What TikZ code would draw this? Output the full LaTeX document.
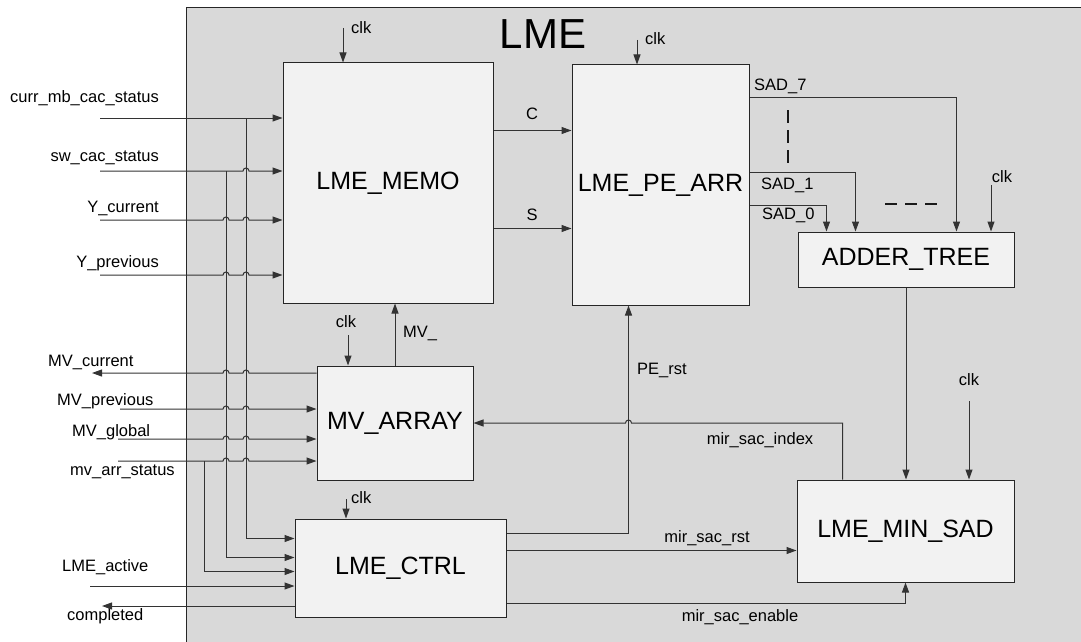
\documentclass[tikz,border=0pt]{standalone}
\usepackage{fontspec}
\setmainfont{Liberation Sans}
\usetikzlibrary{arrows.meta, positioning, calc}
\tikzstyle{block} = [rectangle, draw=black!85, fill=gray!10, line width=1pt, inner sep=0pt, text centered, font=\fontsize{25}{30}\selectfont]
\tikzstyle{sig} = [inner sep=0pt, font=\fontsize{16.5}{20}\selectfont]
\tikzstyle{wire} = [draw=black!80, line width=1pt]
\tikzstyle{arrow} = [wire, -{Triangle[length=10pt,width=7pt]}]
\tikzstyle{gapline} = [draw=black!90, line width=1.6pt]

\begin{document}
\begin{tikzpicture}[x=1pt, y=-1pt]
\useasboundingbox (0,0) rectangle (1081,642);

% LME frame
\draw[draw=black!85, fill=gray!30, line width=1pt] (186,8) rectangle (1100,660);
\node (title) [font=\fontsize{42}{50}\selectfont, inner sep=0pt] at (543,34) {LME};

% Blocks
\node (memo) [block, minimum width=210pt, minimum height=240pt] at (388,183) {LME\_MEMO};
\node (pearr) [block, minimum width=177pt, minimum height=240pt] at (660.5,185) {LME\_PE\_ARR};
\node (adder) [block, minimum width=216pt, minimum height=55pt] at (906,259.5) {ADDER\_TREE};
\node (mvarr) [block, minimum width=156pt, minimum height=114pt] at (395,423) {MV\_ARRAY};
\node (ctrl) [block, minimum width=211pt, minimum height=98pt] at (400.5,568) {LME\_CTRL};
\node (minsad) [block, minimum width=217pt, minimum height=102pt] at (905.5,531) {LME\_MIN\_SAD};

% Clock inputs
\coordinate (ck1) at (343,28);
\coordinate (ck2) at (637,40);
\coordinate (ck3) at (348,335);
\coordinate (ck4) at (346,499);
\coordinate (ck5) at (991,185);
\coordinate (ck6) at (969,401);
\draw [arrow] (ck1) -- (ck1 |- memo.north);
\draw [arrow] (ck2) -- (ck2 |- pearr.north);
\draw [arrow] (ck3) -- (ck3 |- mvarr.north);
\draw [arrow] (ck4) -- (ck4 |- ctrl.north);
\draw [arrow] (ck5) -- (ck5 |- adder.north);
\draw [arrow] (ck6) -- (ck6 |- minsad.north);
\node (ck1lbl) [sig, right=8pt of ck1] {clk};
\node (ck2lbl) [sig, right=8pt of ck2, yshift=1pt] {clk};
\node (ck3lbl) [sig, above=7pt of ck3, xshift=-2pt] {clk};
\node (ck4lbl) [sig, right=5pt of ck4, yshift=1pt] {clk};
\node (ck5lbl) [sig, above=2pt of ck5, xshift=11pt] {clk};
\node (ck6lbl) [sig, above=15pt of ck6] {clk};

% Left side signals
\coordinate (curr) at (100,118);
\coordinate (sw) at (100,171);
\coordinate (ycur) at (100,220);
\coordinate (yprev) at (100,275);
\coordinate (mvcur) at (92,373);
\coordinate (mvprev) at (120,409);
\coordinate (mvglob) at (118,439);
\coordinate (mvst) at (118,461);
\coordinate (act) at (90,586);
\coordinate (done) at (102,606);
\coordinate (busA) at (226,171);
\coordinate (busB) at (246,118);
\coordinate (mvtap) at (204,461);

\node (currlbl) [sig, anchor=east] at (159,98) {curr\_mb\_cac\_status};
\node (swlbl) [sig, anchor=east] at (159,158) {sw\_cac\_status};
\node (ycurlbl) [sig, anchor=east] at (159,208) {Y\_current};
\node (yprevlbl) [sig, anchor=east] at (159,263) {Y\_previous};
\node (mvcurlbl) [sig, anchor=west] at (48,362) {MV\_current};
\node (mvprevlbl) [sig, anchor=west] at (57,401) {MV\_previous};
\node (mvgloblbl) [sig, anchor=west] at (72,432) {MV\_global};
\node (mvstlbl) [sig, anchor=west] at (70,472) {mv\_arr\_status};
\node (actlbl) [sig, anchor=west] at (62,567) {LME\_active};
\node (donelbl) [sig, anchor=west] at (67,616) {completed};

\draw [arrow] (curr) -- (curr -| memo.west);
\draw [arrow] (sw) -- ($(sw -| busB)+(-3,0)$) arc[start angle=180, end angle=0, radius=3pt] -- (sw -| memo.west);
\foreach \s/\t in {ycur/memo, yprev/memo, mvprev/mvarr, mvglob/mvarr, mvst/mvarr}
  \draw [arrow] (\s) -- ($(\s -| busA)+(-3,0)$) arc[start angle=180, end angle=0, radius=3pt]
    -- ($(\s -| busB)+(-3,0)$) arc[start angle=180, end angle=0, radius=3pt] -- (\s -| \t.west);
\draw [arrow] (mvcur -| mvarr.west) -- ($(mvcur -| busB)+(3,0)$) arc[start angle=0, end angle=180, radius=3pt]
  -- ($(mvcur -| busA)+(3,0)$) arc[start angle=0, end angle=180, radius=3pt] -- (mvcur);

% Control block inputs
\path (ctrl.north west) ++(0,20) coordinate (ci1) ++(0,19) coordinate (ci2) ++(0,14) coordinate (ci3);
\draw [arrow] (busB) |- (ci1);
\draw [arrow] (busA) |- (ci2);
\draw [arrow] (mvtap) |- (ci3);
\draw [arrow] (act) -- (act -| ctrl.west);
\draw [arrow] (done -| ctrl.west) -- (done);

% Memory to PE array
\path (memo.north east) ++(0,68) coordinate (cc) ++(0,98) coordinate (ss);
\draw [arrow] (cc) -- (cc -| pearr.west);
\draw [arrow] (ss) -- (ss -| pearr.west);
\node (clbl) [sig] at (532,114) {C};
\node (slbl) [sig] at (532,215) {S};
\draw [arrow] (mvarr.north) -- (mvarr.north |- memo.south);
\node (mvlbl) [sig, anchor=west] at (403,333) {MV\_};

% SAD outputs
\path (pearr.north east) ++(0,33) coordinate (sad7) ++(0,75) coordinate (sad1) ++(0,33) coordinate (sad0);
\draw [arrow] (sad7) -| ([xshift=159pt]adder.north west);
\draw [arrow] (sad1) -| ([xshift=58pt]adder.north west);
\draw [arrow] (sad0) -| ([xshift=29pt]adder.north west);
\node (sad7lbl) [sig, anchor=west] at (754,86) {SAD\_7};
\node (sad1lbl) [sig, anchor=west] at (761,185) {SAD\_1};
\node (sad0lbl) [sig, anchor=west] at (762,215) {SAD\_0};
\draw [gapline, dash pattern=on 13pt off 7pt] (788,110) -- (788,163);
\draw [gapline, dash pattern=on 12pt off 8pt] (885,204) -- (937,204);

% Min SAD paths
\draw [arrow] (adder.south) -- (adder.south |- minsad.north);
\coordinate (pecol) at ([xshift=57pt]pearr.south west);
\path (ctrl.north east) ++(0,15) coordinate (perst) ++(0,17) coordinate (rst) ++(0,53) coordinate (en);
\draw [arrow] (perst) -| (pecol);
\node (perstlbl) [sig, anchor=west] at (637,370) {PE\_rst};
\coordinate (idx) at ([xshift=46pt]minsad.north west);
\draw [arrow] (idx) -- (idx |- mvarr.east) -- ($(pecol |- mvarr.east)+(3,0)$)
  arc[start angle=0, end angle=180, radius=3pt] -- (mvarr.east);
\node (idxlbl) [sig] at (760,440) {mir\_sac\_index};
\draw [arrow] (rst) -- (rst -| minsad.west);
\node (rstlbl) [sig] at (707,538) {mir\_sac\_rst};
\draw [arrow] (en) -| (minsad.south);
\node (enlbl) [sig] at (740,617) {mir\_sac\_enable};

\end{tikzpicture}
\end{document}
